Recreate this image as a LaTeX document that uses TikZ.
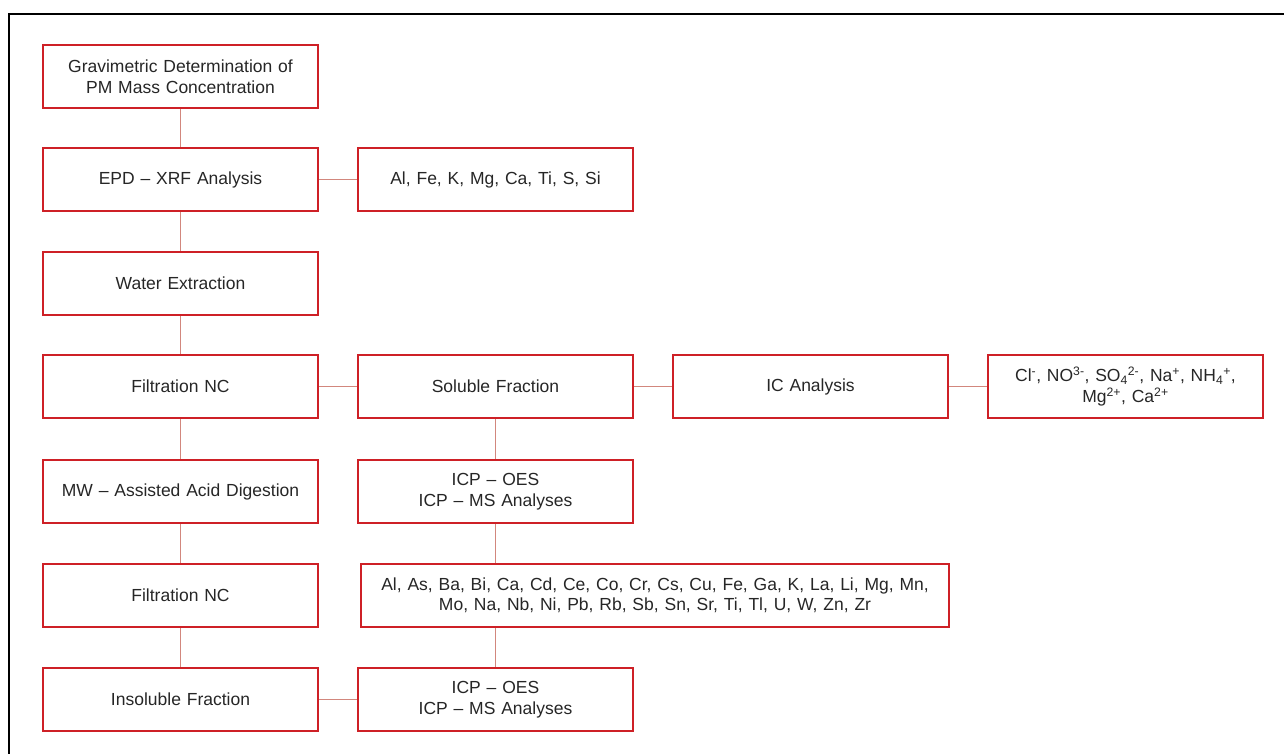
\documentclass[tikz,border=0pt]{standalone}
\usepackage{fontspec}
\setmainfont{Liberation Sans}
\usepackage{xcolor}
\definecolor{boxred}{RGB}{206,32,38}
\definecolor{linkred}{RGB}{210,135,125}
\definecolor{inkgray}{RGB}{38,38,38}
\tikzstyle{box}=[draw=boxred,line width=1.5pt,minimum width=275pt,minimum height=63pt,
  text width=262pt,align=center,inner sep=0pt,text=inkgray,
  font=\fontsize{17.5}{20.5}\selectfont]
\tikzstyle{link}=[draw=linkred,line width=1.6pt]

\begin{document}
\begin{tikzpicture}[x=1pt,y=-1pt]
      \useasboundingbox (0,0) rectangle (1284,753);
      \begin{scope}
        \clip (0,0) rectangle (1284,753);
        \draw [line width=1.8pt] (9,14) rectangle (1300,770);
      \end{scope}
      % left column
      \node [box] (grav) at (180.5,76.5) {Gravimetric Determination of\\PM Mass Concentration};
      \node [box] (epd) at (180.5,179.5) {EPD -- XRF Analysis};
      \node [box] (water) at (180.5,283.5) {Water Extraction};
      \node [box] (filtA) at (180.5,386.5) {Filtration NC};
      \node [box] (mw) at (180.5,491.5) {MW -- Assisted Acid Digestion};
      \node [box] (filtB) at (180.5,595.5) {Filtration NC};
      \node [box] (insol) at (180.5,699.5) {Insoluble Fraction};
      % middle and right
      \node [box] (xrfel) at (495.5,179.5) {Al, Fe, K, Mg, Ca, Ti, S, Si};
      \node [box] (sol) at (495.5,386.5) {Soluble Fraction};
      \node [box] (ic) at (810.5,386.5) {IC Analysis};
      \node [box] (ions) at (1125.5,386.5) {Cl\textsuperscript{-}, NO\textsuperscript{3-}, SO\textsubscript{4}\textsuperscript{2-}, Na\textsuperscript{+}, NH\textsubscript{4}\textsuperscript{+},\\Mg\textsuperscript{2+}, Ca\textsuperscript{2+}};
      \node [box] (icpA) at (495.5,491.5) {ICP -- OES\\ICP -- MS Analyses};
      \node [box,minimum width=588pt,text width=575pt] (elem) at (655,595.5) {Al, As, Ba, Bi, Ca, Cd, Ce, Co, Cr, Cs, Cu, Fe, Ga, K, La, Li, Mg, Mn,\\Mo, Na, Nb, Ni, Pb, Rb, Sb, Sn, Sr, Ti, Tl, U, W, Zn, Zr};
      \node [box] (icpB) at (495.5,699.5) {ICP -- OES\\ICP -- MS Analyses};
      % connectors
      \draw [link] (grav) -- (epd);
      \draw [link] (epd) -- (water);
      \draw [link] (water) -- (filtA);
      \draw [link] (filtA) -- (mw);
      \draw [link] (mw) -- (filtB);
      \draw [link] (filtB) -- (insol);
      \draw [link] (epd) -- (xrfel);
      \draw [link] (filtA) -- (sol);
      \draw [link] (sol) -- (ic);
      \draw [link] (ic) -- (ions);
      \draw [link] (sol) -- (icpA);
      \draw [link] (icpA.south) -- (icpA.south |- elem.north);
      \draw [link] (icpB.north |- elem.south) -- (icpB.north);
      \draw [link] (insol) -- (icpB);
    \end{tikzpicture}
\end{document}
